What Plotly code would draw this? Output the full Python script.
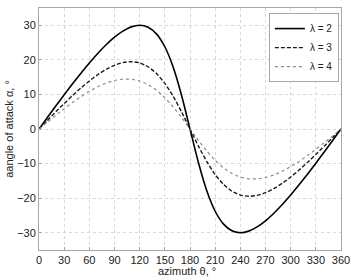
import plotly.graph_objects as go

azimuth_first_half = [0, 10, 20, 30, 40, 50, 60, 70, 80, 90, 100, 110, 120,
                      130, 140, 150, 160, 170, 180]
alpha_l2_half = [0, 3.33, 6.64, 9.90, 13.08, 16.16, 19.11, 21.86, 24.37, 26.57,
                 28.33, 29.54, 30.00, 29.44, 27.52, 23.79, 17.87, 9.70, 0]
alpha_l3_half = [0, 2.49, 4.96, 7.37, 9.69, 11.88, 13.90, 15.70, 17.24, 18.43,
                 19.21, 19.47, 19.11, 18.00, 16.05, 13.19, 9.43, 4.92, 0]
alpha_l4_half = [0, 1.99, 3.96, 5.87, 7.68, 9.37, 10.89, 12.21, 13.28, 14.04,
                 14.43, 14.41, 13.90, 12.85, 11.24, 9.06, 6.38, 3.30, 0]

# second half read as mirror image (curve is antisymmetric about 180 deg)
azimuth = azimuth_first_half + [360 - a for a in azimuth_first_half[::-1][1:]]
def full(half):
    return half + [-v for v in half[::-1][1:]]

series_names = ["λ = 2", "λ = 3", "λ = 4"]
series_values = [full(alpha_l2_half), full(alpha_l3_half), full(alpha_l4_half)]
styles = [dict(color="#000000", width=1.6, dash="solid"),
          dict(color="#1a1a1a", width=1.4, dash="4px,2px"),
          dict(color="#8c8c8c", width=1.2, dash="dot")]

x_ticks = list(range(0, 361, 30))
y_ticks = [-30, -20, -10, 0, 10, 20, 30]

fig = go.Figure()
for name, vals, st in zip(series_names, series_values, styles):
    fig.add_trace(go.Scatter(x=azimuth, y=vals, mode="lines", name=name,
                             line=dict(shape="spline", smoothing=0.6, **st)))

font = dict(family="Liberation Sans, Arial, sans-serif", size=11, color="#222222")
axis_common = dict(showline=True, mirror=True, linecolor="#a8a8a8", linewidth=1,
                   showgrid=True, gridcolor="#d8d8d8", griddash="dot", gridwidth=1,
                   ticks="inside", ticklen=3, tickcolor="#a8a8a8", zeroline=False,
                   tickfont=font)
fig.update_layout(
    width=357, height=280,
    margin=dict(l=39, r=11, t=7, b=30),
    paper_bgcolor="white", plot_bgcolor="white",
    showlegend=True,
    legend=dict(x=0.993, y=0.979, xanchor="right", yanchor="top",
                bgcolor="white", bordercolor="#a8a8a8", borderwidth=1,
                font=dict(family="Liberation Sans, Arial, sans-serif", size=10, color="#222222"),
                tracegroupgap=0, itemwidth=30),
    xaxis=dict(range=[0, 360], tickvals=x_ticks, **axis_common),
    yaxis=dict(range=[-35, 35], tickvals=y_ticks, **axis_common),
    annotations=[
        dict(text="azimuth θ, °", xref="paper", yref="paper", x=0.49, y=-0.086,
             xanchor="center", yanchor="middle", showarrow=False, font=font),
        dict(text="aangle of attack α, °", xref="paper", yref="paper", x=-0.1,
             y=0.5, xanchor="center", yanchor="middle", textangle=-90,
             showarrow=False, font=font),
    ],
)
fig.write_html("out.html")
